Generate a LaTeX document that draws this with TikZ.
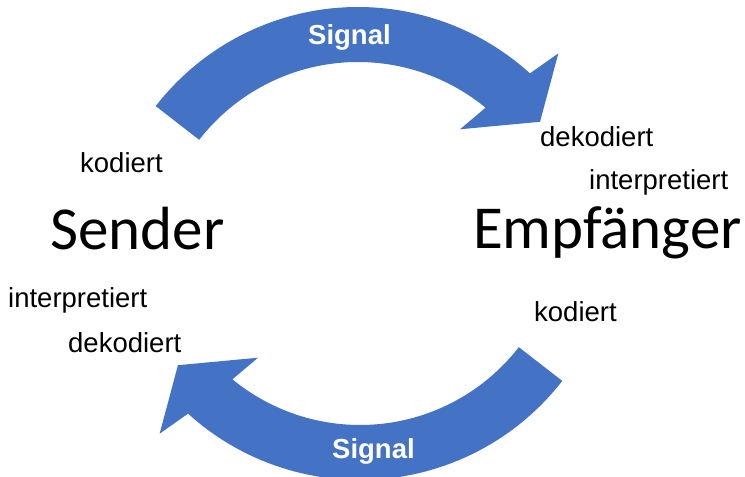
\documentclass[tikz,border=0pt]{standalone}
\usepackage{fontspec}
\setmainfont{Liberation Sans}
\newfontfamily\calibri{Carlito}
\definecolor{pfeilblau}{HTML}{4472C4}
% gebogener Pfeil, Mittelpunkt des Kreises im Ursprung
\newcommand{\signalpfeil}{%
  \fill[pfeilblau] (142.2:256) arc[start angle=142.2, end angle=47.8, radius=256]
    -- (46.3:290) -- (37.8:230.4) -- (52.66:168.2) -- (50.6:201)
    arc[start angle=50.6, end angle=142.2, radius=201] -- cycle;}
\tikzset{
  wort/.style={font=\fontsize{27.5}{30}\selectfont, anchor=base west, inner sep=0pt},
  partner/.style={font=\calibri\fontsize{61}{70}\selectfont, anchor=base west, inner sep=0pt},
  signal/.style={font=\bfseries\fontsize{27.5}{30}\selectfont, text=white, anchor=base west, inner sep=0pt}
}
\begin{document}
\begin{tikzpicture}[x=1pt,y=1pt]
  \useasboundingbox (0,0) rectangle (745,477);
  \begin{scope}[shift={(358,214)}]
    \signalpfeil
  \end{scope}
  \begin{scope}[shift={(360,253)}, rotate=180]
    \signalpfeil
  \end{scope}
  \node[signal] (signalOben) at (308,432) {Signal};
  \node[signal] (signalUnten) at (332,18) {Signal};
  % Sender
  \node[partner] (sender) at (50,227) {Sender};
  \node[wort] (kodS) at (80,304) {kodiert};
  \node[wort] (intS) at (8,169) {interpretiert};
  \node[wort] (dekS) at (68,124) {dekodiert};
  % Empfaenger
  \node[partner] (empf) at (473,228) {Empfänger};
  \node[wort] (dekE) at (540,330) {dekodiert};
  \node[wort] (intE) at (589,287) {interpretiert};
  \node[wort] (kodE) at (534,155) {kodiert};
\end{tikzpicture}
\end{document}
